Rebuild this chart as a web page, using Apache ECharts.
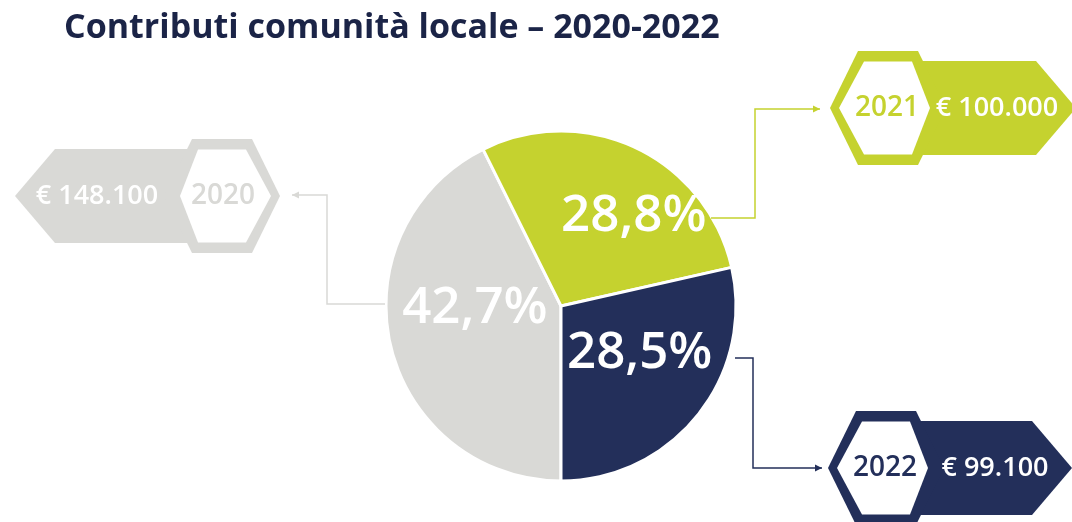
<!DOCTYPE html>
<html>
<head>
<meta charset="utf-8">
<script src="https://cdn.jsdelivr.net/npm/echarts@6/dist/echarts.min.js"></script>
<style>
html,body{margin:0;padding:0;background:#fff;}
#chart{width:1072px;height:522px;}
</style>
</head>
<body>
<div id="chart"></div>
<script>
// ---- data ----
const years = ['2020', '2021', '2022'];
const amounts = [148100, 100000, 99100];
const colors = ['#d9d9d6', '#c5d22f', '#232f5a'];
const titleText = 'Contributi comunità locale – 2020-2022';

// ---- layout (not data) ----
const CX = 561, CY = 306, R = 175;
const FONT = '"Open Sans", "Noto Sans", sans-serif';
const labelOffsets = [[2, -18], [34, -8], [8, -9]];
// badge layout: side (+1 body to the right, -1 body to the left), hex centre, tip x
const badges = [
  { s: -1, cx: 222, cy: 196, tip: 15, path: [[385, 304], [327, 304], [327, 195], [292, 195]] },
  { s: 1, cx: 888, cy: 108, tip: 1076, path: [[711, 218], [755, 218], [755, 109], [820, 109]] },
  { s: 1, cx: 886, cy: 468, tip: 1072, path: [[735, 358], [753, 358], [753, 468], [822, 468]] }
];

const total = amounts.reduce((a, b) => a + b, 0);
const pct = v => (v / total * 100).toFixed(1).replace('.', ',') + '%';
const euro = v => '€ ' + v.toString().replace(/\B(?=(\d{3})+(?!\d))/g, '.');

const pieData = years.map((y, i) => ({
  name: y,
  value: amounts[i],
  itemStyle: { color: colors[i] },
  label: { offset: labelOffsets[i] }
}));

const graphics = [];
badges.forEach((b, i) => {
  const s = b.s, cx = b.cx, cy = b.cy, col = colors[i];
  const sh = b.tip - s * 40;
  // leader line
  graphics.push({ type: 'polyline', shape: { points: b.path }, style: { stroke: col, lineWidth: 1.5, fill: null }, z: 5 });
  const end = b.path[b.path.length - 1], prev = b.path[b.path.length - 2];
  const dir = Math.sign(end[0] - prev[0]);
  graphics.push({ type: 'polygon', shape: { points: [[end[0], end[1]], [end[0] - dir * 7, end[1] - 3.5], [end[0] - dir * 7, end[1] + 3.5]] }, style: { fill: col }, z: 5 });
  // body arrow
  graphics.push({ type: 'polygon', shape: { points: [[cx, cy - 47], [sh, cy - 47], [b.tip, cy], [sh, cy + 47], [cx, cy + 47]] }, style: { fill: col }, z: 5 });
  // outer hex
  graphics.push({ type: 'polygon', shape: { points: [[cx - s * 58, cy], [cx - s * 30, cy - 57], [cx + s * 30, cy - 57], [cx + s * 58, cy], [cx + s * 30, cy + 57], [cx - s * 30, cy + 57]] }, style: { fill: col }, z: 6 });
  // inner hex
  graphics.push({ type: 'polygon', shape: { points: [[cx - s * 49, cy], [cx - s * 24, cy - 46.5], [cx + s * 24, cy - 46.5], [cx + s * 42, cy], [cx + s * 24, cy + 46.5], [cx - s * 24, cy + 46.5]] }, style: { fill: '#ffffff' }, z: 7 });
  // year text
  graphics.push({ type: 'text', z: 8, style: { text: years[i], x: cx - s * 1, y: cy, fill: col, font: '600 28px ' + FONT, textAlign: 'center', textVerticalAlign: 'middle', verticalAlign: 'middle' } });
  // value text
  const vx = s > 0 ? cx + 109 : cx - 125;
  graphics.push({ type: 'text', z: 8, style: { text: euro(amounts[i]), x: vx, y: cy, fill: '#ffffff', font: '600 27px ' + FONT, textAlign: 'center', textVerticalAlign: 'middle', verticalAlign: 'middle' } });
});

const chart = echarts.init(document.getElementById('chart'), null, { renderer: 'canvas' });
chart.setOption({
  backgroundColor: '#ffffff',
  animation: false,
  title: {
    text: titleText,
    left: 64, top: 11, padding: 0,
    textStyle: { fontFamily: FONT, fontSize: 34, fontWeight: 'bold', color: '#1b2447' }
  },
  series: [{
    type: 'pie',
    center: [CX, CY],
    radius: R,
    startAngle: -90,
    clockwise: true,
    itemStyle: { borderColor: '#ffffff', borderWidth: 3 },
    label: {
      show: true,
      position: 'inside',
      formatter: p => pct(p.value),
      color: '#ffffff',
      fontFamily: FONT,
      fontSize: 51,
      fontWeight: 600
    },
    labelLine: { show: false },
    emphasis: { disabled: true },
    data: pieData
  }],
  graphic: graphics
});
</script>
</body>
</html>
